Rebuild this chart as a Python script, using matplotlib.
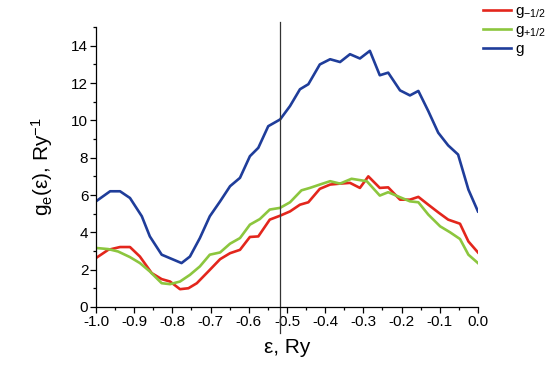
import matplotlib
matplotlib.use("Agg")
import matplotlib.pyplot as plt
from matplotlib.ticker import MultipleLocator, FormatStrFormatter

plt.rcParams['font.family'] = ['Liberation Sans', 'DejaVu Sans']
plt.rcParams['mathtext.fontset'] = 'custom'
plt.rcParams['mathtext.rm'] = 'Liberation Sans'
plt.rcParams['mathtext.it'] = 'Liberation Sans'

# energies (Ry) and densities of states
eps_g = [-1.0, -0.963, -0.937, -0.911, -0.880, -0.859, -0.828, -0.776, -0.754, -0.728,
         -0.702, -0.675, -0.649, -0.623, -0.597, -0.575, -0.549, -0.518, -0.492, -0.466,
         -0.444, -0.414, -0.387, -0.361, -0.335, -0.309, -0.283, -0.257, -0.235, -0.204,
         -0.178, -0.156, -0.130, -0.104, -0.078, -0.052, -0.025, 0.0]
g_tot = [5.66, 6.2, 6.2, 5.84, 4.86, 3.78, 2.8, 2.35, 2.7, 3.69,
         4.86, 5.66, 6.47, 6.92, 8.08, 8.53, 9.69, 10.05, 10.77, 11.67,
         11.94, 13.0, 13.28, 13.13, 13.55, 13.32, 13.73, 12.42, 12.56, 11.61,
         11.34, 11.58, 10.5, 9.34, 8.66, 8.17, 6.29, 5.12]

eps_m = [-1.0, -0.968, -0.937, -0.911, -0.885, -0.854, -0.828, -0.806, -0.780, -0.758,
         -0.736, -0.706, -0.675, -0.649, -0.623, -0.597, -0.575, -0.545, -0.518, -0.492,
         -0.466, -0.444, -0.414, -0.387, -0.361, -0.335, -0.309, -0.287, -0.257, -0.235,
         -0.204, -0.178, -0.156, -0.130, -0.104, -0.078, -0.047, -0.025, 0.0]
g_minus = [2.62, 3.06, 3.21, 3.21, 2.70, 1.81, 1.49, 1.36, 0.95, 1.0,
           1.27, 1.90, 2.56, 2.88, 3.06, 3.75, 3.78, 4.68, 4.89, 5.12,
           5.48, 5.61, 6.33, 6.56, 6.61, 6.65, 6.38, 7.0, 6.38, 6.41,
           5.75, 5.75, 5.90, 5.48, 5.07, 4.68, 4.46, 3.51, 2.92]

eps_p = [-1.0, -0.968, -0.942, -0.911, -0.885, -0.859, -0.828, -0.806, -0.780, -0.754,
         -0.728, -0.702, -0.675, -0.649, -0.623, -0.597, -0.571, -0.545, -0.518, -0.492,
         -0.462, -0.440, -0.414, -0.387, -0.361, -0.331, -0.291, -0.257, -0.235, -0.204,
         -0.178, -0.156, -0.130, -0.099, -0.073, -0.047, -0.025, 0.0]
g_plus = [3.16, 3.10, 2.97, 2.67, 2.35, 1.90, 1.27, 1.22, 1.36, 1.72,
          2.17, 2.80, 2.92, 3.39, 3.69, 4.41, 4.71, 5.22, 5.31, 5.61,
          6.25, 6.38, 6.56, 6.74, 6.61, 6.87, 6.74, 5.97, 6.15, 5.88,
          5.66, 5.61, 4.95, 4.32, 4.0, 3.64, 2.8, 2.35]

fermi = -0.518

fig = plt.figure(figsize=(5.5, 3.72), dpi=100)
ax = fig.add_axes([0.1745, 0.175, 0.6945, 0.752])

l1, = ax.plot(eps_m, g_minus, color='#e3261c', lw=1.9, label=r'$\mathregular{g_{-1/2}}$')
l2, = ax.plot(eps_p, g_plus, color='#8cc63e', lw=1.9, label=r'$\mathregular{g_{+1/2}}$')
l3, = ax.plot(eps_g, g_tot, color='#1f3d9a', lw=1.9, label='g')
ax.axvline(fermi, ymin=-0.093, ymax=1.018, color='#333333', lw=0.9, clip_on=False)

ax.set_xlim(-1.0, 0.0)
ax.set_ylim(0, 15)
ax.xaxis.set_major_locator(MultipleLocator(0.1))
ax.xaxis.set_minor_locator(MultipleLocator(0.05))
ax.xaxis.set_major_formatter(FormatStrFormatter('%.1f'))
ax.yaxis.set_major_locator(MultipleLocator(2))
ax.yaxis.set_minor_locator(MultipleLocator(1))
ax.tick_params(which='major', direction='out', length=4, width=0.9, labelsize=11, pad=1.5)
ax.tick_params(which='minor', direction='out', length=2.5, width=0.9)
for s in ['top', 'right']:
    ax.spines[s].set_visible(False)
for s in ['left', 'bottom']:
    ax.spines[s].set_linewidth(0.9)

ax.set_xlabel(r'ε, Ry', fontsize=15, labelpad=7)
ax.set_ylabel(r'$\mathregular{g_e}$(ε), Ry$\mathregular{^{-1}}$', fontsize=15, labelpad=12)

fig.legend(handles=[l1, l2, l3], loc='upper left', bbox_to_anchor=(0.865, 1.01),
           frameon=False, fontsize=11, handlelength=1.8, handletextpad=0.3,
           labelspacing=0.2, borderaxespad=0.1)

fig.savefig('out.png', dpi=100)
